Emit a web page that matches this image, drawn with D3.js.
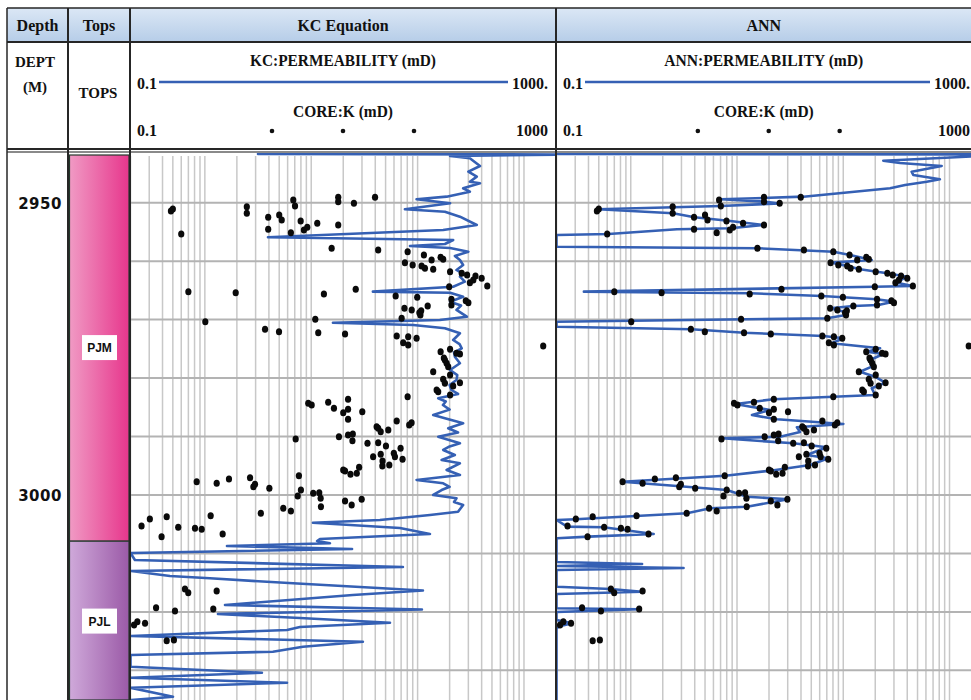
<!DOCTYPE html>
<html>
<head>
<meta charset="utf-8">
<script src="https://cdn.jsdelivr.net/npm/d3@7/dist/d3.min.js"></script>
<style>
  html, body { margin: 0; padding: 0; background: #fff; }
  svg { display: block; }
</style>
</head>
<body>
<svg id="chart" width="971" height="700"></svg>
<script>
// ---------------- data ----------------
const columnTitles = ["Depth", "Tops", "KC Equation", "ANN"];
const curveTitles = ["KC:PERMEABILITY (mD)", "ANN:PERMEABILITY (mD)"];
const coreTitle = "CORE:K (mD)";
const scaleMin = 0.1, scaleMax = 1000;
const curveScaleLabels = ["0.1", "1000."];
const coreScaleLabels = ["0.1", "1000"];
const depthLabels = [2950, 3000];
const gridDepths = [2950, 2960, 2970, 2980, 2990, 3000, 3010, 3020, 3030];
const gridMultipliers = [1, 1.5, 2, 2.5, 3, 3.5, 4, 4.5, 5];
const depthRange = [2941.5, 3035.07];

const topNames = ["PJM", "PJL"];
const topDepths = [2941.5, 3007.9];

// KC-equation permeability: [depth m, mD]
const kcCurve = [
  [2941.67,1.58],[2941.75,1500],[2942.01,101],[2942.40,155],[2943.72,193],[2944.70,150],
  [2945.55,180],[2946.41,155],[2946.68,193],[2947.54,134],[2948.12,155],[2948.97,93.7],
  [2949.42,48.9],[2950.10,101],[2951.13,38.0],[2951.54,90.3],[2952.39,125],[2953.81,180],
  [2954.67,87.0],[2955.92,1.96],[2956.38,108],[2957.06,90.3],[2957.41,42.4],[2957.75,101],
  [2958.38,150],[2959.10,112],[2959.80,125],[2960.66,134],[2961.51,116],[2962.10,132],[2962.66,125],
  [2963.51,139],[2964.37,108],[2965.22,19.0],[2965.40,101],[2966.08,134],[2966.94,101],
  [2967.60,128],[2968.35,116],[2969.50,145],[2970.07,80.8],[2970.53,8.0],[2970.92,45.5],[2971.48,90.3],
  [2972.34,125],[2973.49,108],[2974.20,124],[2974.91,130],[2975.60,110],[2976.34,112],[2977.47,125],
  [2978.62,101],[2979.50,118],[2980.33,116],[2981.20,100],[2982.04,104],[2982.72,120],[2983.46,78.1],
  [2984.00,92],[2984.61,86.5],[2985.40,100],[2986.32,70.1],[2986.88,90.3],[2987.74,134],[2988.59,97.0],
  [2989.30,120],[2990.03,78.1],[2991.16,125],[2991.70,100],[2992.30,87.0],[2993.16,112],[2994.01,84.1],
  [2994.58,125],[2995.72,93.7],[2996.58,125],[2997.43,48.9],[2998.00,87.0],[2998.60,100],[2999.15,84.1],
  [3000.00,70.1],[3000.57,116],[3001.20,110],[3001.71,134],[3002.86,120],[3003.42,65.3],[3004.28,22.1],
  [3004.74,5.19],[3005.65,34.1],[3006.67,65.3],[3007.53,6.04],[3007.87,5.68],[3008.26,7.50],
  [3008.73,0.807],[3009.24,12.1],[3009.92,0.1],[3011.12,0.110],[3012.32,36.4],[3013.00,0.1],
  [3013.86,0.235],[3014.25,0.558],[3015.11,3.37],[3016.34,56.1],[3017.11,12.3],[3018.82,0.773],
  [3019.59,54.9],[3020.36,0.664],[3021.04,3.92],[3021.85,27.5],[3022.58,3.92],[3023.09,2.96],
  [3024.12,0.1],[3025.10,15.3],[3025.95,4.18],[3026.81,2.18],[3027.37,0.1],[3029.38,0.1],
  [3030.41,1.72],[3031.27,0.1],[3032.12,2.96],[3032.98,0.1],[3034.52,0.251],[3035.1,0.1]
];

// ANN permeability: [depth m, mD]
const annCurve = [
  [2941.67,0.1],[2941.75,2000],[2942.82,119],[2943.21,171],[2943.72,422],[2944.70,220],
  [2945.26,228],[2946.00,406],[2946.41,305],[2946.97,191],[2947.54,138],[2948.97,21.1],
  [2949.42,3.53],[2949.83,9.21],[2950.14,12.7],[2950.56,3.53],[2951.13,0.246],[2951.81,1.25],
  [2952.50,1.99],[2953.13,4.32],[2953.81,8.88],[2954.38,4.32],[2954.55,1.36],[2955.35,0.31],
  [2955.53,0.1],[2957.53,0.1],[2957.80,7.87],[2958.38,40.4],[2958.95,57.9],[2959.80,92.7],
  [2960.26,39.0],[2960.83,54.3],[2961.39,71.9],[2962.08,130],[2962.66,198],[2963.68,159],
  [2964.25,225],[2964.37,99.5],[2965.22,0.181],[2965.50,6.66],[2965.96,31.4],[2966.52,103],
  [2966.93,148],[2967.50,107],[2967.67,62.2],[2968.06,37.6],[2968.70,52.0],[2969.21,53.1],
  [2969.77,35.0],[2970.36,0.1],[2971.21,0.1],[2971.66,1.86],[2972.24,5.85],[2972.80,32.5],
  [2973.20,50.1],[2974.05,39.0],[2974.91,111],[2975.49,83.2],[2975.88,119],[2976.91,89.3],
  [2978.05,92.7],[2978.91,71.9],[2979.76,99.5],[2980.79,124],[2981.75,92.7],[2982.90,99.5],
  [2983.19,40.4],[2983.63,11.0],[2984.43,4.81],[2984.95,6.95],[2985.46,10.3],[2986.32,6.91],
  [2987.05,11.9],[2987.86,50.1],[2988.42,18.3],[2989.22,19.6],[2990.03,12.7],[2990.30,3.61],
  [2991.16,17.0],[2991.84,35.0],[2993.16,22.7],[2993.72,36.2],[2994.87,24.4],[2995.84,10.3],
  [2996.70,3.87],[2997.73,0.414],[2998.46,1.36],[2999.15,4.02],[3000.29,6.20],[3000.74,15.2],
  [3002.00,6.20],[3002.28,2.80],[3003.13,1.69],[3004.16,0.151],[3004.28,0.1],[3005.42,0.126],
  [3005.53,0.278],[3006.67,0.821],[3007.13,0.201],[3007.41,0.1],[3011.46,0.1],[3011.80,0.639],
  [3012.14,0.1],[3012.49,1.57],[3012.83,0.1],[3015.69,0.1],[3016.08,0.322],[3016.54,0.639],
  [3016.94,0.1],[3019.38,0.1],[3019.55,0.593],[3020.01,0.1],[3021.38,0.1],[3021.95,0.141],
  [3022.41,0.109],[3022.75,0.1],[3035.1,0.1]
];

// Core permeability samples: [depth m, mD]
const corePoints = [
  [2951.42,0.24],[2951.08,0.25],[2955.35,0.30],[2950.68,1.24],[2951.81,1.24],[2952.50,1.97],
  [2954.55,1.97],[2952.10,2.50],[2952.96,2.64],[2955.13,3.22],[2949.54,3.39],[2950.56,3.52],
  [2953.13,3.98],[2954.67,4.27],[2954.21,4.59],[2953.52,5.70],[2949.08,8.97],[2949.83,8.97],
  [2953.81,8.97],[2950.10,12.6],[2949.08,19.9],[2965.22,0.35],[2965.40,0.975],[2970.36,0.505],
  [2971.66,1.84],[2972.07,2.49],[2969.95,5.46],[2972.24,5.82],[2972.46,10.4],[2965.62,6.58],
  [2957.80,7.78],[2964.81,13.1],[2958.09,21.3],[2958.38,40.3],[2958.95,57.3],[2959.80,67.7],
  [2959.34,82.3],[2959.68,87.0],[2960.26,38.0],[2960.66,44.9],[2960.83,54.5],[2961.22,58.6],
  [2961.39,70.1],[2961.80,101],[2962.08,130],[2962.37,146],[2962.54,175],[2962.93,200],
  [2964.25,226],[2963.68,155],[2963.22,167],[2964.37,99.1],[2965.96,31.1],[2966.18,49.6],
  [2966.52,104],[2967.50,104],[2966.76,142],[2967.11,150],[2968.06,37.6],[2968.36,44.0],
  [2968.82,52.0],[2968.47,54.0],[2967.67,62.2],[2969.21,53.1],[2969.77,35.4],[2972.80,31.8],
  [2972.92,40.8],[2973.20,48.9],[2973.95,36.6],[2974.34,40.8],[2974.51,758],[2975.49,82.3],
  [2975.08,101],[2975.76,116],[2975.88,125],[2976.91,90.3],[2977.47,93.7],[2978.05,97.0],
  [2976.57,88.3],[2978.91,70.1],[2979.47,101],[2980.21,87.0],[2980.89,90.3],[2980.79,125],
  [2981.36,108],[2982.90,101],[2982.04,75.5],[2982.33,78.1],[2983.19,40.3],[2984.31,4.69],
  [2984.61,5.05],[2984.14,7.22],[2985.17,8.18],[2983.63,11.1],[2985.34,11.1],[2985.92,10.0],
  [2987.05,11.1],[2985.75,15.1],[2987.34,31.8],[2987.63,43.9],[2988.03,41.7],[2988.32,20.6],
  [2988.59,21.3],[2989.17,22.5],[2988.88,26.5],[2990.03,9.11],[2989.74,11.1],[2989.57,12.3],
  [2990.71,12.2],[2990.42,3.57],[2991.16,16.9],[2991.05,21.3],[2991.62,25.2],[2992.01,34.6],
  [2993.45,19.1],[2993.04,22.5],[2994.19,23.4],[2995.04,23.3],[2994.87,27.1],[2993.45,30.6],
  [2992.87,29.9],[2993.89,36.1],[2995.72,10.0],[2995.90,10.4],[2996.46,11.7],[2996.29,13.4],
  [2995.26,14.1],[2996.70,3.83],[2997.73,0.419],[2998.00,0.646],[2997.26,0.843],[2997.04,1.33],
  [2998.58,1.43],[2998.17,1.48],[2998.85,2.02],[2999.15,4.00],[3000.17,3.73],[2999.71,5.22],
  [2999.61,5.95],[3000.57,6.13],[3002.00,6.17],[3001.03,10.4],[3001.71,12.0],[3000.74,14.9],
  [3002.28,2.73],[3002.74,3.22],[3003.13,1.68],[3003.54,0.567],[3003.71,0.219],[3004.11,0.152],
  [3005.30,0.127],[3005.53,0.281],[3005.70,0.404],[3005.87,0.467],[3007.13,0.196],[3006.67,0.735],
  [3016.08,0.325],[3016.71,0.349],[3016.42,0.646],[3019.28,0.174],[3019.84,0.262],[3019.50,0.600],
  [3022.24,0.108],[3021.67,0.116],[3021.95,0.137],[3024.93,0.219],[3024.81,0.256]
];

// ---------------- layout ----------------
const W = 971, H = 700;
const cols = [
  { x0: 7,   x1: 68 },
  { x0: 68,  x1: 130 },
  { x0: 130, x1: 556 },
  { x0: 556, x1: 981.5 }
];
const hdrTop = 8, hdrMid = 42, hdrBot = 150, plotTop = 153, plotBot = H;

const svg = d3.select("#chart");
const defs = svg.append("defs");

const serif = "'Liberation Serif', 'Times New Roman', serif";
const blue = "#3560b4";

// gradients
function hGrad(id, c0, c1) {
  const g = defs.append("linearGradient").attr("id", id)
    .attr("x1", "0%").attr("x2", "100%").attr("y1", "0%").attr("y2", "0%");
  g.append("stop").attr("offset", "0%").attr("stop-color", c0);
  g.append("stop").attr("offset", "100%").attr("stop-color", c1);
}
const hdrG = defs.append("linearGradient").attr("id", "hdrGrad")
  .attr("x1", "0%").attr("x2", "0%").attr("y1", "0%").attr("y2", "100%");
hdrG.append("stop").attr("offset", "0%").attr("stop-color", "#dbe7f5");
hdrG.append("stop").attr("offset", "100%").attr("stop-color", "#b6cde8");
hGrad("gradPJM", "#f09ac4", "#e7368c");
hGrad("gradPJL", "#cfa9da", "#9b5aa7");
const topFills = ["url(#gradPJM)", "url(#gradPJL)"];

// scales
const y = d3.scaleLinear().domain(depthRange).range([plotTop, plotBot]);
const xScales = [2, 3].map(i =>
  d3.scaleLog().domain([scaleMin, scaleMax]).range([cols[i].x0 + 0.5, cols[i].x1]));

// ---------------- header ----------------
const hdr = svg.append("g");
hdr.append("rect").attr("x", cols[0].x0).attr("y", hdrTop)
  .attr("width", W - cols[0].x0).attr("height", hdrMid - hdrTop)
  .attr("fill", "url(#hdrGrad)");

columnTitles.forEach((t, i) => {
  hdr.append("text")
    .attr("x", (cols[i].x0 + cols[i].x1) / 2 - (i === 3 ? 5 : 0))
    .attr("y", 31)
    .attr("text-anchor", "middle")
    .attr("font-family", serif).attr("font-weight", "bold").attr("font-size", 16)
    .attr("fill", "#111")
    .text(t);
});

// depth and tops column sub-headers
hdr.append("text").attr("x", 35).attr("y", 67).attr("text-anchor", "middle")
  .attr("font-family", serif).attr("font-weight", "bold").attr("font-size", 15)
  .attr("fill", "#111").text("DEPT");
hdr.append("text").attr("x", 35).attr("y", 92).attr("text-anchor", "middle")
  .attr("font-family", serif).attr("font-weight", "bold").attr("font-size", 15)
  .attr("fill", "#111").text("(M)");
hdr.append("text").attr("x", 98).attr("y", 98).attr("text-anchor", "middle")
  .attr("font-family", serif).attr("font-weight", "bold").attr("font-size", 15)
  .attr("fill", "#111").text("TOPS");

// track sub-headers (curve legend line, core legend dots, scale limits)
[2, 3].forEach((ci, ti) => {
  const c = cols[ci];
  const mid = (c.x0 + c.x1) / 2 - (ti === 1 ? 5 : 0);
  const rightEdge = Math.min(c.x1 - 8, W - 1);
  const g = hdr.append("g");
  g.append("text").attr("x", mid).attr("y", 66).attr("text-anchor", "middle")
    .attr("font-family", serif).attr("font-weight", "bold").attr("font-size", 17)
    .attr("textLength", ti === 0 ? 186 : 199).attr("lengthAdjust", "spacingAndGlyphs")
    .attr("fill", "#111").text(curveTitles[ti]);
  g.append("text").attr("x", c.x0 + 7).attr("y", 89)
    .attr("font-family", serif).attr("font-weight", "bold").attr("font-size", 16)
    .attr("fill", "#111").text(curveScaleLabels[0]);
  g.append("text").attr("x", rightEdge).attr("y", 89).attr("text-anchor", "end")
    .attr("font-family", serif).attr("font-weight", "bold").attr("font-size", 16)
    .attr("fill", "#111").text(curveScaleLabels[1]);
  g.append("line").attr("x1", c.x0 + 29).attr("x2", rightEdge - 40)
    .attr("y1", 82).attr("y2", 82)
    .attr("stroke", blue).attr("stroke-width", 2.6);
  g.append("text").attr("x", mid).attr("y", 117).attr("text-anchor", "middle")
    .attr("font-family", serif).attr("font-weight", "bold").attr("font-size", 17)
    .attr("textLength", 100).attr("lengthAdjust", "spacingAndGlyphs")
    .attr("fill", "#111").text(coreTitle);
  g.append("text").attr("x", c.x0 + 7).attr("y", 136)
    .attr("font-family", serif).attr("font-weight", "bold").attr("font-size", 16)
    .attr("fill", "#111").text(coreScaleLabels[0]);
  g.append("text").attr("x", rightEdge).attr("y", 136).attr("text-anchor", "end")
    .attr("font-family", serif).attr("font-weight", "bold").attr("font-size", 16)
    .attr("fill", "#111").text(coreScaleLabels[1]);
  [1 / 3, 1 / 2, 2 / 3].forEach(f => {
    g.append("circle").attr("cx", c.x0 + f * (c.x1 - c.x0)).attr("cy", 131)
      .attr("r", 2.3).attr("fill", "#111");
  });
});

// ---------------- tracks ----------------
[2, 3].forEach((ci, ti) => {
  const c = cols[ci];
  const x = xScales[ti];
  const clipId = "clip" + ti;
  defs.append("clipPath").attr("id", clipId).append("rect")
    .attr("x", c.x0 + 1).attr("y", plotTop).attr("width", c.x1 - c.x0 - 1)
    .attr("height", plotBot - plotTop);
  const g = svg.append("g").attr("clip-path", `url(#${clipId})`);

  // logarithmic grid
  const vLines = [];
  for (let e = -1; e < 3; e++) {
    gridMultipliers.forEach(m => vLines.push(m * Math.pow(10, e)));
  }
  vLines.push(scaleMax);
  g.selectAll("line.v").data(vLines).enter().append("line")
    .attr("x1", d => x(d)).attr("x2", d => x(d))
    .attr("y1", plotTop + 3).attr("y2", plotBot)
    .attr("stroke", "#c8c8c8").attr("stroke-width", 1.5);
  g.selectAll("line.h").data(gridDepths).enter().append("line")
    .attr("x1", c.x0).attr("x2", c.x1)
    .attr("y1", d => y(d)).attr("y2", d => y(d))
    .attr("stroke", "#b3b3b3").attr("stroke-width", 2);

  // permeability curve
  const curve = ti === 0 ? kcCurve : annCurve;
  const line = d3.line().x(d => x(d[1])).y(d => y(d[0]));
  g.append("path").datum(curve).attr("d", line)
    .attr("fill", "none").attr("stroke", blue).attr("stroke-width", 2.6)
    .attr("stroke-linejoin", "round").attr("stroke-linecap", "round");

  // core samples
  g.selectAll("ellipse").data(corePoints).enter().append("ellipse")
    .attr("cx", d => x(d[1])).attr("cy", d => y(d[0]))
    .attr("rx", 3.1).attr("ry", 3.5).attr("fill", "#0a0a0a");
});

// ---------------- tops ----------------
const tops = svg.append("g");
topNames.forEach((name, i) => {
  const d0 = topDepths[i];
  const d1 = i + 1 < topDepths.length ? topDepths[i + 1] : depthRange[1];
  const y0 = Math.max(y(d0), plotTop + 2);
  const y1 = y(d1);
  tops.append("rect").attr("x", cols[1].x0 + 1.5).attr("y", y0)
    .attr("width", cols[1].x1 - cols[1].x0 - 2.5).attr("height", y1 - y0)
    .attr("fill", topFills[i]).attr("stroke", "#23382c").attr("stroke-width", 1.2);
  const cy = y((d0 + d1) / 2);
  tops.append("rect").attr("x", 82).attr("y", cy - 12).attr("width", 35).attr("height", 25)
    .attr("fill", "#fff");
  tops.append("text").attr("x", 99.5).attr("y", cy + 5).attr("text-anchor", "middle")
    .attr("font-family", "'Liberation Sans', Arial, sans-serif").attr("font-weight", "bold")
    .attr("font-size", 12).attr("fill", "#111").text(name);
});

// ---------------- depth labels ----------------
svg.append("g").selectAll("text").data(depthLabels).enter().append("text")
  .attr("x", 40).attr("y", d => y(d) + 6).attr("text-anchor", "middle")
  .attr("font-family", "'DejaVu Sans', sans-serif").attr("font-weight", "bold")
  .attr("font-size", 15).attr("letter-spacing", 0.5).attr("fill", "#111")
  .text(d => d);

// ---------------- frame ----------------
const frame = svg.append("g").attr("stroke", "#262626").attr("fill", "none");
frame.append("line").attr("x1", cols[0].x0).attr("x2", W).attr("y1", hdrTop).attr("y2", hdrTop)
  .attr("stroke-width", 1.5);
frame.append("line").attr("x1", cols[0].x0).attr("x2", W).attr("y1", hdrMid).attr("y2", hdrMid)
  .attr("stroke-width", 2);
frame.append("line").attr("x1", cols[0].x0).attr("x2", W).attr("y1", hdrBot - 1).attr("y2", hdrBot - 1)
  .attr("stroke-width", 2.2);
frame.append("line").attr("x1", cols[0].x0).attr("x2", W).attr("y1", hdrBot + 2).attr("y2", hdrBot + 2)
  .attr("stroke", "#8a8a8a").attr("stroke-width", 2);
cols.forEach((c, i) => {
  frame.append("line").attr("x1", c.x0).attr("x2", c.x0)
    .attr("y1", hdrTop).attr("y2", H)
    .attr("stroke-width", i === 0 ? 1.5 : 2);
});
</script>
</body>
</html>
